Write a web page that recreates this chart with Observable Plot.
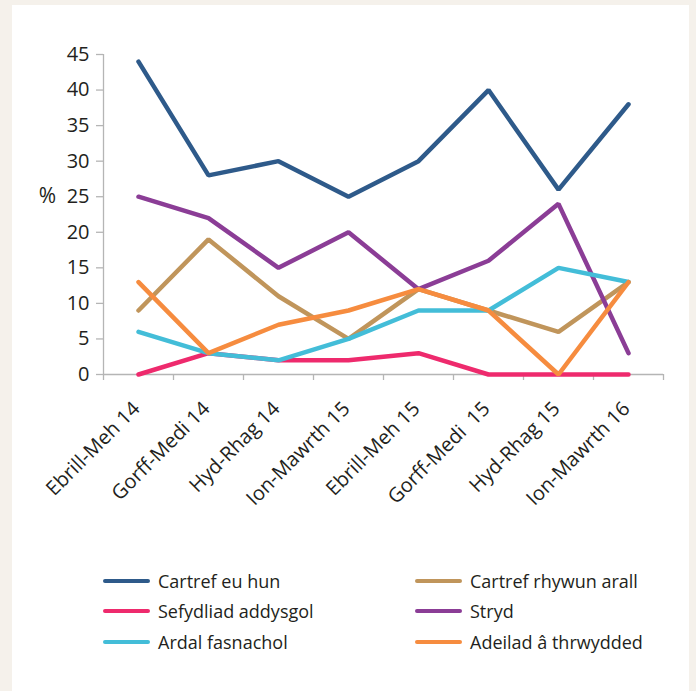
<!DOCTYPE html>
<html>
<head>
<meta charset="utf-8">
<script src="https://cdn.jsdelivr.net/npm/d3@7"></script>
<script src="https://cdn.jsdelivr.net/npm/@observablehq/plot@0.6"></script>
<style>
  html, body { margin: 0; padding: 0; background: #f5f1eb; }
  body { width: 696px; height: 691px; position: relative; overflow: hidden; font-family: "Open Sans", sans-serif; }
  #panel { position: absolute; left: 12px; top: 5px; width: 677px; height: 686px; background: #fff; }
  #chart { position: absolute; left: 0; top: 0; }
  .legend { position: absolute; left: 0; top: 0; width: 677px; }
  .item { position: absolute; display: flex; align-items: center; font-size: 18px; color: #231f20; white-space: nowrap; height: 24px; }
  .sw { width: 47px; height: 4.5px; border-radius: 3px; margin-right: 8px; }
</style>
</head>
<body>
<div id="panel">
  <div id="chart"></div>
  <div class="legend" id="legend"></div>
</div>
<script>
const categories = ["Ebrill-Meh 14", "Gorff-Medi 14", "Hyd-Rhag 14", "Ion-Mawrth 15", "Ebrill-Meh 15", "Gorff-Medi  15", "Hyd-Rhag 15", "Ion-Mawrth 16"];
const seriesNames = ["Cartref eu hun", "Cartref rhywun arall", "Sefydliad addysgol", "Stryd", "Ardal fasnachol", "Adeilad â thrwydded"];
const seriesColors = ["#2e5a8a", "#c0955b", "#ee2a6d", "#8b3d96", "#43bdd8", "#f68c3f"];
const cartrefEuHun       = [44, 28, 30, 25, 30, 40, 26, 38];
const cartrefRhywunArall = [9, 19, 11, 5, 12, 9, 6, 13];
const sefydliadAddysgol  = [0, 3, 2, 2, 3, 0, 0, 0];
const stryd              = [25, 22, 15, 20, 12, 16, 24, 3];
const ardalFasnachol     = [6, 3, 2, 5, 9, 9, 15, 13];
const adeiladThrwydded   = [13, 3, 7, 9, 12, 9, 0, 13];
const yTicks = [0, 5, 10, 15, 20, 25, 30, 35, 40, 45];

const seriesValues = [cartrefEuHun, cartrefRhywunArall, sefydliadAddysgol, stryd, ardalFasnachol, adeiladThrwydded];
const data = [];
seriesNames.forEach((s, k) => seriesValues[k].forEach((v, i) => data.push({series: s, i, value: v})));

const axisColor = "#b5b5b5";
const textColor = "#231f20";

const plot = Plot.plot({
  width: 677,
  height: 535,
  marginLeft: 91,
  marginRight: 26,
  marginTop: 49,
  marginBottom: 166,
  style: {background: "transparent", fontFamily: "Open Sans, sans-serif", color: textColor},
  x: {type: "linear", domain: [-0.5, 7.5]},
  y: {domain: [0, 45]},
  color: {domain: seriesNames, range: seriesColors},
  marks: [
    Plot.ruleX([-0.5], {y1: 0, y2: 45, stroke: axisColor, strokeWidth: 1.3}),
    Plot.ruleY([0], {x1: -0.5, x2: 7.5, stroke: axisColor, strokeWidth: 1.3}),
    Plot.axisY({ticks: yTicks, tickSize: 7, tickPadding: 7, fontSize: 20, stroke: axisColor, strokeWidth: 1.3, fill: textColor, label: null}),
    Plot.axisX({ticks: d3.range(-0.5, 8, 1), tickSize: 6, tickFormat: () => "", stroke: axisColor, strokeWidth: 1.3, label: null}),
    Plot.axisX({ticks: d3.range(0, 8), tickSize: 0, tickPadding: 31, dx: -2, tickRotate: -45, fontSize: 20, fill: textColor, tickFormat: i => categories[i], label: null}),
    Plot.text(["%"], {x: -0.5, y: 25, dx: -56, text: d => d, fontSize: 21, fill: textColor, textAnchor: "middle"}),
    Plot.line(data, {x: "i", y: "value", z: "series", stroke: "series", strokeWidth: 4.5, strokeLinecap: "round", strokeLinejoin: "miter"})
  ]
});
document.getElementById("chart").appendChild(plot);

const legend = document.getElementById("legend");
const legendOrder = [0, 1, 2, 3, 4, 5];
const rowTops = [564, 594, 625];
const colLefts = [91, 403];
legendOrder.forEach((k, j) => {
  const row = Math.floor(j / 2), col = j % 2;
  const el = document.createElement("div");
  el.className = "item";
  el.style.top = rowTops[row] + "px";
  el.style.left = colLefts[col] + "px";
  el.innerHTML = `<div class="sw" style="background:${seriesColors[k]}"></div><span>${seriesNames[k]}</span>`;
  legend.appendChild(el);
});
</script>
</body>
</html>
